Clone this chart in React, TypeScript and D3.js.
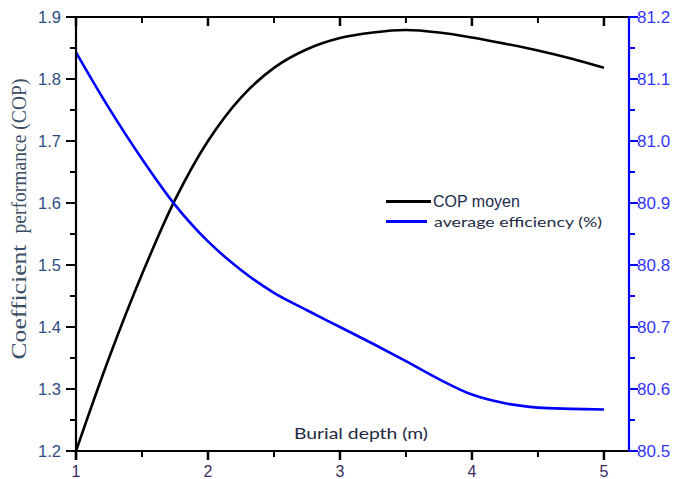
import React from "react";
import * as d3 from "d3";

const depth = [1, 1.25, 1.5, 1.75, 2, 2.25, 2.5, 2.75, 3, 3.25, 3.5, 3.75, 4, 4.25, 4.5, 4.75, 5];
const copMoyen = [1.2, 1.35, 1.485, 1.605, 1.7, 1.77, 1.818, 1.848, 1.866, 1.875, 1.879, 1.875, 1.867, 1.857, 1.846, 1.833, 1.818];
const efficiency = [81.143, 81.053, 80.971, 80.897, 80.838, 80.792, 80.755, 80.727, 80.7, 80.673, 80.645, 80.616, 80.591, 80.577, 80.57, 80.568, 80.567];

const xTicks = [1, 2, 3, 4, 5];
const xMinor = [1.5, 2.5, 3.5, 4.5];
const leftTicks = [1.2, 1.3, 1.4, 1.5, 1.6, 1.7, 1.8, 1.9];
const leftMinor = [1.25, 1.35, 1.45, 1.55, 1.65, 1.75, 1.85];
const rightTicks = [80.5, 80.6, 80.7, 80.8, 80.9, 81.0, 81.1, 81.2];
const rightMinor = [80.55, 80.65, 80.75, 80.85, 80.95, 81.05, 81.15];

const L = 76, R = 629, T = 17, B = 451;

export default function App() {
  const x = d3.scaleLinear().domain([1, 5.19]).range([L, R]);
  const yL = d3.scaleLinear().domain([1.2, 1.9]).range([B, T]);
  const yR = d3.scaleLinear().domain([80.5, 81.2]).range([B, T]);

  const copLine = d3.line<number>().x((_, i) => x(depth[i])).y((d) => yL(d)).curve(d3.curveCatmullRom.alpha(0.5));
  const effLine = d3.line<number>().x((_, i) => x(depth[i])).y((d) => yR(d)).curve(d3.curveCatmullRom.alpha(0.5));

  const tickFont = "'Liberation Sans', Arial, sans-serif";
  return (
    <div style={{ position: "absolute", left: 0, top: 0 }}>
      <svg width={677} height={479} style={{ display: "block", background: "#fff" }}>
        {/* curves */}
        <path d={copLine(copMoyen) || ""} fill="none" stroke="#000" strokeWidth={2.6} />
        <path d={effLine(efficiency) || ""} fill="none" stroke="#0000ff" strokeWidth={2.6} />

        {/* top axis */}
        <line x1={L - 10} x2={R} y1={T} y2={T} stroke="#000" strokeWidth={2} />
        {xTicks.map((t) => (
          <line key={"tt" + t} x1={x(t)} x2={x(t)} y1={T} y2={T + 9} stroke="#000" strokeWidth={2.5} />
        ))}
        {xMinor.map((t) => (
          <line key={"tm" + t} x1={x(t)} x2={x(t)} y1={T} y2={T + 6} stroke="#000" strokeWidth={2} />
        ))}

        {/* bottom axis */}
        <line x1={L - 10} x2={R} y1={B} y2={B} stroke="#000" strokeWidth={2} />
        {xTicks.map((t) => (
          <line key={"bt" + t} x1={x(t)} x2={x(t)} y1={B} y2={B + 9} stroke="#000" strokeWidth={2.5} />
        ))}
        {xMinor.map((t) => (
          <line key={"bm" + t} x1={x(t)} x2={x(t)} y1={B} y2={B + 6} stroke="#000" strokeWidth={2} />
        ))}
        {xTicks.map((t) => (
          <text key={"bl" + t} x={x(t)} y={477} textAnchor="middle" fontFamily={tickFont} fontSize={16} fill="#3a2a5e">
            {t}
          </text>
        ))}

        {/* left axis */}
        <line x1={L} x2={L} y1={T} y2={B + 9} stroke="#000" strokeWidth={2.2} />
        {leftTicks.map((t) => (
          <line key={"lt" + t} x1={L - 10} x2={L} y1={yL(t)} y2={yL(t)} stroke="#000" strokeWidth={2} />
        ))}
        {leftMinor.map((t) => (
          <line key={"lm" + t} x1={L - 6} x2={L} y1={yL(t)} y2={yL(t)} stroke="#000" strokeWidth={2} />
        ))}
        {leftTicks.map((t) => (
          <text key={"ll" + t} x={61} y={yL(t) + 6} textAnchor="end" fontFamily={tickFont} fontSize={16.5} fill="#2c4c80">
            {t.toFixed(1)}
          </text>
        ))}

        {/* right axis */}
        <line x1={R} x2={R} y1={T} y2={B} stroke="#0000ff" strokeWidth={2.2} />
        {rightTicks.map((t) => (
          <line key={"rt" + t} x1={R} x2={R + 9} y1={yR(t)} y2={yR(t)} stroke="#0000ff" strokeWidth={2} />
        ))}
        {rightMinor.map((t) => (
          <line key={"rm" + t} x1={R} x2={R + 6} y1={yR(t)} y2={yR(t)} stroke="#0000ff" strokeWidth={2} />
        ))}
        {rightTicks.map((t) => (
          <text key={"rl" + t} x={637} y={yR(t) + 6} textAnchor="start" fontFamily={tickFont} fontSize={17} fill="#3535ff">
            {t.toFixed(1)}
          </text>
        ))}

        {/* y title */}
        <g transform="translate(26,302) rotate(-90)">
          <text textAnchor="middle" fontFamily="'Liberation Serif', 'Times New Roman', serif" fontSize={20} fill="#3a4f66" textLength={115} lengthAdjust="spacingAndGlyphs">
            Coefficient
          </text>
        </g>
        <g transform="translate(26,156) rotate(-90)">
          <text textAnchor="middle" fontFamily="'Liberation Serif', 'Times New Roman', serif" fontSize={20} fill="#3a4f66" textLength={155} lengthAdjust="spacingAndGlyphs">
            performance (COP)
          </text>
        </g>

        {/* x title */}
        <text x={361} y={439} textAnchor="middle" fontFamily="Lato, 'Open Sans', sans-serif" fontSize={15} fill="#1f2a44" textLength={134} lengthAdjust="spacingAndGlyphs">
          Burial depth (m)
        </text>

        {/* legend */}
        <line x1={386} x2={431} y1={201.5} y2={201.5} stroke="#000" strokeWidth={3} />
        <text x={433} y={207} fontFamily={tickFont} fontSize={16} fill="#1a2a4a">
          COP moyen
        </text>
        <line x1={386} x2={427} y1={221.5} y2={221.5} stroke="#0000ff" strokeWidth={3} />
        <text x={434} y={227} fontFamily="Lato, 'Open Sans', sans-serif" fontSize={14} fill="#1f2a44" textLength={168} lengthAdjust="spacingAndGlyphs">
          average efficiency (%)
        </text>
      </svg>
    </div>
  );
}
